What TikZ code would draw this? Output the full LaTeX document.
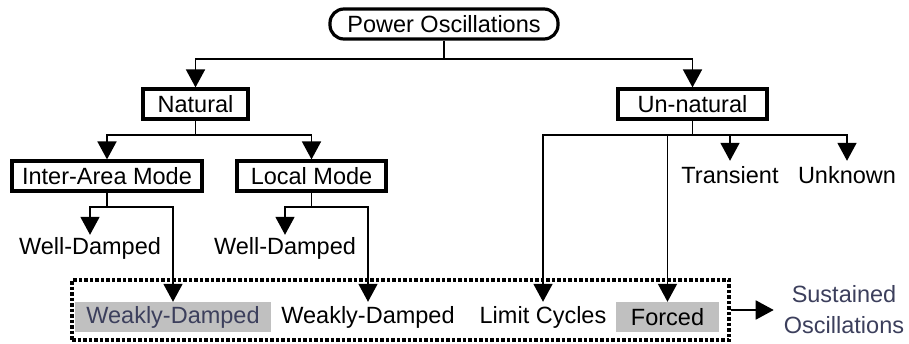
\documentclass[tikz,border=0pt]{standalone}
\usepackage{fontspec}
\setmainfont{Liberation Sans}
\usetikzlibrary{arrows.meta}
\definecolor{inkblue}{HTML}{3C3F5C}
\definecolor{shade}{RGB}{192,192,192}
\begin{document}
\begin{tikzpicture}[x=1pt,y=-1pt,
  every node/.style={font=\fontsize{23.5}{29}\selectfont, inner sep=0pt},
  box/.style={draw, line width=3.2pt, minimum height=30pt},
  lbl/.style={minimum height=28pt},
  rowlbl/.style={minimum height=30pt},
  grey/.style={fill=shade, text=inkblue},
  conn/.style={line width=1.8pt},
  arr/.style={conn, -{Triangle[width=19pt,length=18pt]}},
  dashbox/.style={draw, line width=3.2pt, dash pattern=on 3.5pt off 2pt}]
\useasboundingbox (0,0) rectangle (909,343);

% category boxes
\node[box, rounded corners=14pt, minimum width=228pt] (power) at (444,24) {Power Oscillations};
\node[box, minimum width=105pt] (natural) at (195.5,104) {Natural};
\node[box, minimum width=149pt] (unnatural) at (692.5,104) {Un-natural};
\node[box, minimum width=190pt] (inter) at (107,176) {Inter-Area Mode};
\node[box, minimum width=149pt] (local) at (311.5,176) {Local Mode};

% leaf labels
\node[lbl, minimum height=26pt] (well1) at (90,248) {Well-Damped};
\node[lbl, minimum height=26pt] (well2) at (285,248) {Well-Damped};
\node[lbl] (transient) at (730,175) {Transient};
\node[lbl] (unknown) at (847,175) {Unknown};

% sustained group
\node[dashbox, minimum width=657pt, minimum height=60pt] (group) at (400.5,310) {};
\node[rowlbl, grey, minimum width=196pt] (weakly1) at (173,317) {Weakly-Damped};
\node[rowlbl] (weakly2) at (368,317) {Weakly-Damped};
\node[rowlbl] (limit) at (543,317) {Limit Cycles};
\node[rowlbl, grey, text=black, minimum width=103pt] (forced) at (667.5,317) {Forced};
\node[align=center, inner sep=10pt, text=inkblue, font=\fontsize{23.5}{31}\selectfont] (sust) at (844,310) {Sustained\\Oscillations};

% connectors
\coordinate (pj) at ([yshift=-18pt]power.south);
\draw[conn] (power.south) -- (pj);
\draw[arr] (pj) -| (natural.north);
\draw[arr] (pj) -| (unnatural.north);

\coordinate (nj) at ([yshift=-14pt]natural.south);
\draw[conn] (natural.south) -- (nj);
\draw[arr] (nj) -| (inter.north);
\draw[arr] (nj) -| (local.north);

\coordinate (uj) at ([yshift=-14pt]unnatural.south);
\draw[conn] (unnatural.south) -- (uj);
\draw[arr] (uj) -| (limit.north);
\draw[arr] (uj) -| (forced.north);
\draw[arr] (uj) -| (transient.north);
\draw[arr] (uj) -| (unknown.north);

\coordinate (ij) at ([yshift=-14pt]inter.south);
\draw[conn] (inter.south) -- (ij);
\draw[arr] (ij) -| (well1.north);
\draw[arr] (ij) -| (weakly1.north);

\coordinate (lj) at ([yshift=-14pt]local.south);
\draw[conn] (local.south) -- (lj);
\draw[arr] (lj) -| (well2.north);
\draw[arr] (lj) -| (weakly2.north);

\draw[arr] (group.east) -- (sust.west);
\end{tikzpicture}
\end{document}
